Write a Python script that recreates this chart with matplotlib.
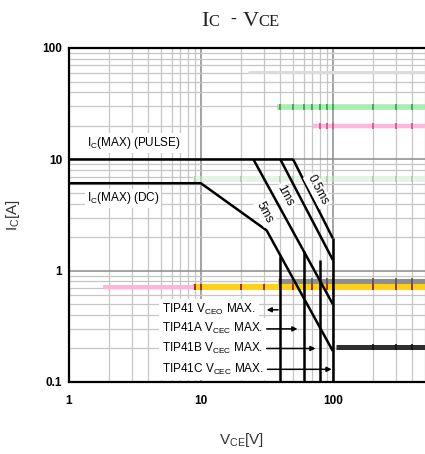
import matplotlib
matplotlib.use("Agg")
import matplotlib.pyplot as plt

plt.rcParams['font.family'] = ['Liberation Sans', 'DejaVu Sans']
plt.rcParams['mathtext.fontset'] = 'custom'
plt.rcParams['mathtext.rm'] = 'Liberation Sans'
plt.rcParams['mathtext.it'] = 'Liberation Sans:italic'

# safe operating area boundaries (V_CE [V], I_C [A])
pulse_v = [1, 50]
pulse_i = [10, 10]
dc_v = [1, 10, 31.5, 100]
dc_i = [6.1, 6.1, 2.3, 0.19]
ms5_v = [25, 100]
ms5_i = [10, 0.5]
ms1_v = [40, 100]
ms1_i = [10, 1.25]
ms05_v = [50, 100]
ms05_i = [10, 1.95]

# V_CEO / V_CEC max limits
vmax_v = [40, 60, 80, 100]
vmax_top = [1.35, 1.5, 1.25, 1.95]

# line labels
curve_labels = ['5ms', '1ms', '0.5ms']
curve_label_v = [30.5, 43.5, 77]
curve_label_i = [3.3, 4.7, 5.3]

# device notes
note_text = [r'TIP41 V$_{\mathrm{CEO}}$ MAX.',
             r'TIP41A V$_{\mathrm{CEC}}$ MAX.',
             r'TIP41B V$_{\mathrm{CEC}}$ MAX.',
             r'TIP41C V$_{\mathrm{CEC}}$ MAX.']
note_i = [0.445, 0.30, 0.20, 0.13]
arrow_from = [38.5, 31.5, 31.5, 32]
arrow_to = [31.5, 54, 74, 98]

# coloured marker bands across the sheet
band_i = [61, 29.3, 19.9, 6.6, 0.81, 0.72, 0.72, 0.207]
band_v0 = [22.7, 37.7, 70.5, 8.7, 38.3, 8.7, 1.8, 105]
band_v1 = [500, 500, 500, 500, 500, 500, 8.7, 500]

x_ticks = [1, 10, 100]
x_tick_labels = ['1', '10', '100']
y_ticks = [0.1, 1, 10, 100]
y_tick_labels = ['0.1', '1', '10', '100']

W, H = 425, 454
fig = plt.figure(figsize=(W / 100, H / 100), dpi=100)
ax = fig.add_axes([69 / W, 1 - 382 / H, 356 / W, 334 / H])
ax.set_xscale('log')
ax.set_yscale('log')
ax.set_xlim(1, 500)
ax.set_ylim(0.1, 100)

ax.set_xticks(x_ticks, labels=x_tick_labels)
ax.set_yticks(y_ticks, labels=y_tick_labels)
ax.tick_params(which='both', length=0)
ax.tick_params(axis='x', pad=9, labelsize=8.5)
ax.tick_params(axis='y', pad=5, labelsize=8.5)
for lab in ax.get_xticklabels() + ax.get_yticklabels():
    lab.set_fontweight('bold')

ax.grid(which='minor', color='#c6c6c6', lw=0.9, zorder=0)
ax.grid(which='major', color='#8a8a8a', lw=1.1, zorder=0)
ax.set_axisbelow(True)

for side in ['left', 'bottom', 'top']:
    ax.spines[side].set_linewidth(1.6)
ax.spines['right'].set_visible(False)

# bands
band_color = ['#dcdcdc', '#a6eeb0', '#ffb8dc', '#e4f3e4', '#8e8e8e', '#ffd21a', '#ffb4d8', '#2e2e2e']
band_lw = [2.2, 4.0, 3.2, 4.2, 3.6, 4.4, 3.0, 3.6]
tick_color = [None, '#3a9a48', '#d0507c', '#a8c8a8', '#555555', '#a01010', None, '#111111']
grid_x = [k * 10 ** d for d in range(3) for k in range(1, 10)]
for y, v0, v1, c, lw, tc in zip(band_i, band_v0, band_v1, band_color, band_lw, tick_color):
    ax.plot([v0, v1], [y, y], color=c, lw=lw, solid_capstyle='butt', zorder=2)
    if tc is not None:
        xs = [g for g in grid_x if v0 < g < v1]
        ax.plot(xs, [y] * len(xs), ls='none', marker='|', ms=5, mew=1.2, color=tc, zorder=2.1)

# SOA curves
kw = dict(color='black', lw=1.8, zorder=3, solid_capstyle='butt')
ax.plot(pulse_v, pulse_i, **kw)
ax.plot(dc_v, dc_i, **kw)
ax.plot(ms5_v, ms5_i, **kw)
ax.plot(ms1_v, ms1_i, **kw)
ax.plot(ms05_v, ms05_i, **kw)
for v, top in zip(vmax_v, vmax_top):
    ax.plot([v, v], [0.1, top], **kw)

box = dict(facecolor='white', edgecolor='none', pad=1.2)
for t, v, i in zip(curve_labels, curve_label_v, curve_label_i):
    ax.text(v, i, t, rotation=-62, fontsize=8.5, ha='center', va='center',
            bbox=box, zorder=4)

ax.text(1.36, 14, r'I$_{\mathrm{C}}$(MAX) (PULSE)', fontsize=8.5, ha='left',
        va='center', bbox=box, zorder=4)
ax.text(1.36, 4.45, r'I$_{\mathrm{C}}$(MAX) (DC)', fontsize=8.5, ha='left',
        va='center', bbox=box, zorder=4)

for t, i, a0, a1 in zip(note_text, note_i, arrow_from, arrow_to):
    ax.text(5.1, i, t, fontsize=8.5, ha='left', va='center',
            bbox=dict(facecolor='white', edgecolor='none', pad=2.5), zorder=4)
    ax.annotate('', xy=(a1, i), xytext=(a0, i),
                arrowprops=dict(arrowstyle='-|>', color='black', lw=1.1,
                                mutation_scale=7, shrinkA=0, shrinkB=0),
                zorder=4)

ax.set_ylabel(r'I$_{\mathrm{C}}$[A]', fontsize=11, color='#333333')
ax.yaxis.set_label_coords(-0.156, 0.5)
ax.set_xlabel(r'V$_{\mathrm{CE}}$[V]', fontsize=11, color='#333333')
ax.xaxis.set_label_coords(0.485, -0.174)
ax.xaxis.label.set_va('center')
ax.yaxis.label.set_va('center')

# title "IC - VCE" with small capitals
serif = ['Liberation Serif', 'DejaVu Serif']
base = 1 - 25.5 / H
fig.text(201 / W, base, 'I', fontsize=16, family=serif, va='baseline', color='#222222')
fig.text(208.5 / W, base, 'C', fontsize=12, family=serif, va='baseline', color='#222222')
fig.text(233 / W, base + 0.004, '-', fontsize=13, family=serif, va='baseline', ha='center', color='#222222')
fig.text(243 / W, base, 'V', fontsize=16, family=serif, va='baseline', color='#222222')
fig.text(258.5 / W, base, 'CE', fontsize=12, family=serif, va='baseline', color='#222222')

fig.savefig('out.png', dpi=100)
